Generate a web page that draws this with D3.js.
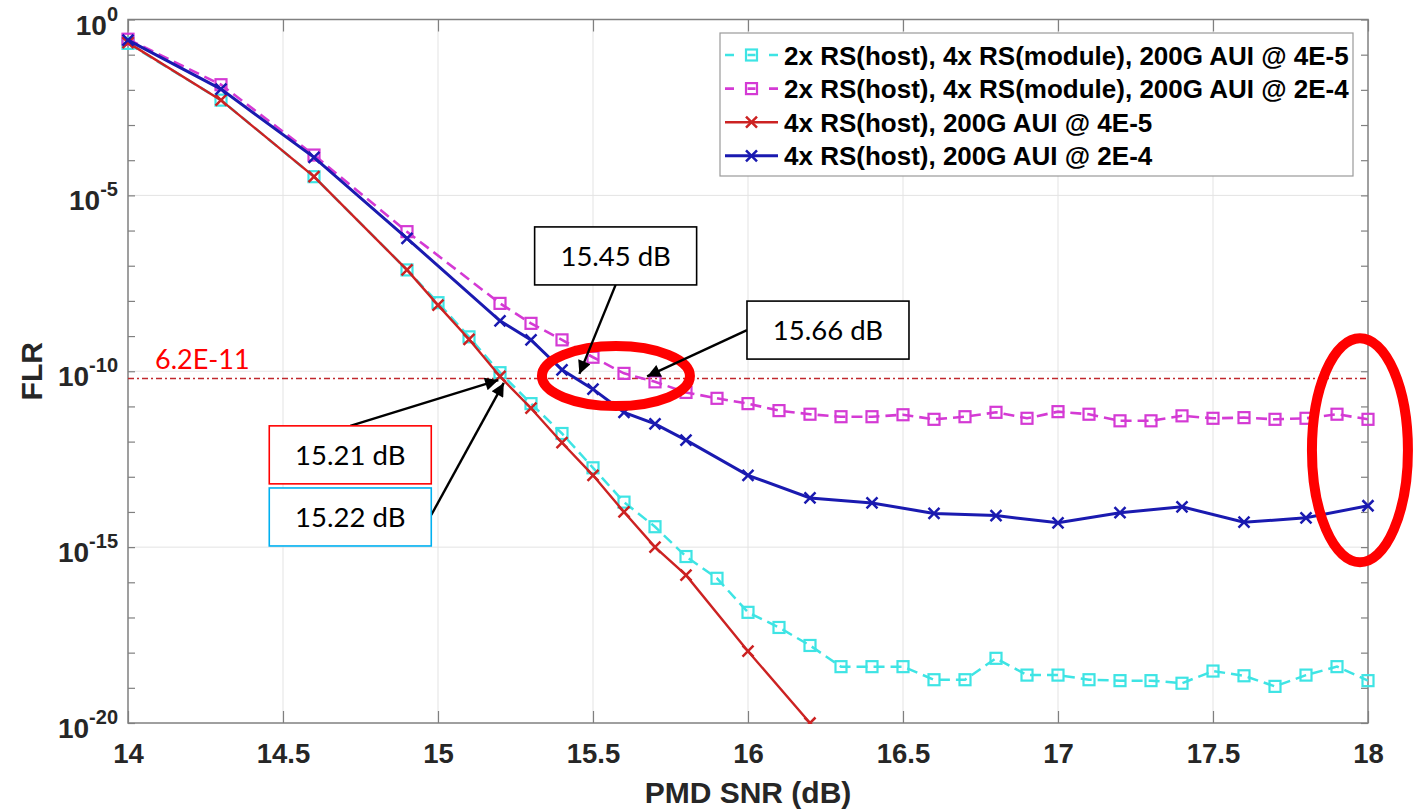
<!DOCTYPE html>
<html>
<head>
<meta charset="utf-8">
<script src="https://cdn.jsdelivr.net/npm/d3@7"></script>
<style>
  html, body { margin: 0; padding: 0; background: #ffffff; }
  svg { display: block; }
</style>
</head>
<body>
<svg id="chart" width="1419" height="810"></svg>
<script>
// ---------------- data ----------------
const seriesNames = [
  "2x RS(host), 4x RS(module), 200G AUI @ 4E-5",
  "2x RS(host), 4x RS(module), 200G AUI @ 2E-4",
  "4x RS(host), 200G AUI @ 4E-5",
  "4x RS(host), 200G AUI @ 2E-4"
];

// cyan: 2x RS(host), 4x RS(module) @ 4E-5
const snrCyan = [14, 14.3, 14.6, 14.9, 15.0, 15.1, 15.2, 15.3, 15.4, 15.5, 15.6, 15.7, 15.8, 15.9,
  16.0, 16.1, 16.2, 16.3, 16.4, 16.5, 16.6, 16.7, 16.8, 16.9, 17.0, 17.1, 17.2, 17.3, 17.4, 17.5,
  17.6, 17.7, 17.8, 17.9, 18.0];
const flrCyan = [2.1e-1, 5.1e-3, 3.4e-5, 7.6e-8, 8.9e-9, 9.5e-10, 9.1e-11, 1.2e-11, 1.7e-12, 1.8e-13,
  1.9e-14, 3.8e-15, 5.4e-16, 1.3e-16, 1.4e-17, 5.2e-18, 1.6e-18, 4.0e-19, 4.0e-19, 4.0e-19,
  1.7e-19, 1.7e-19, 6.9e-19, 2.3e-19, 2.3e-19, 1.7e-19, 1.6e-19, 1.6e-19, 1.35e-19, 3.0e-19,
  2.2e-19, 1.1e-19, 2.3e-19, 4.0e-19, 1.6e-19];

// magenta: 2x RS(host), 4x RS(module) @ 2E-4
const snrMagenta = [14, 14.3, 14.6, 14.9, 15.2, 15.3, 15.4, 15.5, 15.6, 15.7, 15.8, 15.9,
  16.0, 16.1, 16.2, 16.3, 16.4, 16.5, 16.6, 16.7, 16.8, 16.9, 17.0, 17.1, 17.2, 17.3, 17.4, 17.5,
  17.6, 17.7, 17.8, 17.9, 18.0];
const flrMagenta = [2.75e-1, 1.4e-2, 1.4e-4, 9.3e-7, 8.5e-9, 2.3e-9, 7.8e-10, 2.5e-10, 8.7e-11,
  5.0e-11, 2.5e-11, 1.7e-11, 1.2e-11, 7.6e-12, 6.0e-12, 5.1e-12, 5.1e-12, 5.8e-12, 4.3e-12,
  5.1e-12, 6.8e-12, 4.6e-12, 7.1e-12, 6.0e-12, 3.9e-12, 3.9e-12, 5.4e-12, 4.6e-12, 4.8e-12,
  4.3e-12, 4.6e-12, 6.0e-12, 4.3e-12];

// red: 4x RS(host) @ 4E-5
const snrRed = [14, 14.3, 14.6, 14.9, 15.0, 15.1, 15.2, 15.3, 15.4, 15.5, 15.6, 15.7, 15.8, 16.0, 16.2];
const flrRed = [2.2e-1, 5.1e-3, 3.4e-5, 7.6e-8, 7.6e-9, 8.1e-10, 7.1e-11, 8.9e-12, 9.3e-13, 1.1e-13,
  1.0e-14, 1.0e-15, 1.6e-16, 1.1e-18, 1.0e-20];

// blue: 4x RS(host) @ 2E-4
const snrBlue = [14, 14.3, 14.6, 14.9, 15.2, 15.3, 15.4, 15.5, 15.6, 15.7, 15.8, 16.0, 16.2, 16.4,
  16.6, 16.8, 17.0, 17.2, 17.4, 17.6, 17.8, 18.0];
const flrBlue = [2.6e-1, 1.05e-2, 1.2e-4, 6.0e-7, 2.7e-9, 7.8e-10, 1.1e-10, 3.1e-11, 6.8e-12, 3.2e-12,
  1.1e-12, 1.1e-13, 2.5e-14, 1.8e-14, 9.1e-15, 7.9e-15, 4.9e-15, 9.5e-15, 1.4e-14, 5.1e-15,
  6.8e-15, 1.5e-14];

// axes
const xTicks = [14, 14.5, 15, 15.5, 16, 16.5, 17, 17.5, 18];
const xTickLabels = ["14", "14.5", "15", "15.5", "16", "16.5", "17", "17.5", "18"];
const yMajorExps = [0, -5, -10, -15, -20];
const yMajorLabels = ["0", "-5", "-10", "-15", "-20"];
const yMinorExps = d3.range(0, -21, -1);
const xLabel = "PMD SNR (dB)";
const yLabel = "FLR";

// threshold & annotations
const thresholdFLR = 6.2e-11;
const thresholdLabel = "6.2E-11";
const annLabels = ["15.45 dB", "15.66 dB", "15.21 dB", "15.22 dB"];
const annSNR = [15.45, 15.66, 15.21, 15.22];
const annBoxSNR = [15.573, 16.258, 14.717, 14.717];
const annBoxFLR = [1.9e-7, 1.48e-9, 4.2e-13, 7.2e-15];
const annBorder = ["#000000", "#000000", "#ff0000", "#00b0f0"];
const annAnchor = ["bottom", "left", "top", "right"];

// highlight ellipses (centre in data units)
const ellSNR = [15.574, 17.974];
const ellFLR = [7.3e-11, 5.7e-13];

// ---------------- drawing ----------------
const svg = d3.select("#chart");
const L = 128, R = 1368, T = 19.5, B = 723;
const x = d3.scaleLinear().domain([14, 18]).range([L, R]);
const y = d3.scaleLog().domain([1e-20, 1]).range([B, T]);

const axisColor = "#808080";
const textColor = "#262626";
const tickFont = "'Liberation Sans', Arial, sans-serif";
const annFont = "Lato, 'Open Sans', sans-serif";

// grid
const grid = svg.append("g");
grid.selectAll("line.gx").data(xTicks.slice(1, -1)).join("line")
  .attr("x1", d => x(d)).attr("x2", d => x(d)).attr("y1", T).attr("y2", B)
  .attr("stroke", "#e3e3e3").attr("stroke-width", 1);
grid.selectAll("line.gy").data(yMajorExps.slice(1, -1)).join("line")
  .attr("x1", L).attr("x2", R).attr("y1", d => y(Math.pow(10, d))).attr("y2", d => y(Math.pow(10, d)))
  .attr("stroke", "#e3e3e3").attr("stroke-width", 1);

// axes via d3
const xAxisB = d3.axisBottom(x).tickValues(xTicks).tickSize(-12).tickFormat((d, i) => xTickLabels[i]).tickPadding(0);
const gxb = svg.append("g").attr("transform", `translate(0,${B})`).call(xAxisB);
gxb.select(".domain").remove();
gxb.selectAll(".tick line").attr("stroke", axisColor).attr("stroke-width", 1.2);
gxb.selectAll(".tick text").attr("fill", textColor).attr("font-family", tickFont)
  .attr("font-weight", "bold").attr("font-size", 27.5).attr("y", 40).attr("dy", null);

const xAxisT = d3.axisTop(x).tickValues(xTicks).tickSize(-12).tickFormat("");
const gxt = svg.append("g").attr("transform", `translate(0,${T})`).call(xAxisT);
gxt.select(".domain").remove();
gxt.selectAll(".tick line").attr("stroke", axisColor).attr("stroke-width", 1.2);

const yMinorVals = yMinorExps.map(e => Math.pow(10, e));
const yAxisL = d3.axisLeft(y).tickValues(yMinorVals).tickSize(-7).tickFormat("");
const gyl = svg.append("g").attr("transform", `translate(${L},0)`).call(yAxisL);
gyl.select(".domain").remove();
gyl.selectAll(".tick line").attr("stroke", axisColor).attr("stroke-width", 1.2);
const yAxisR = d3.axisRight(y).tickValues(yMinorVals).tickSize(-7).tickFormat("");
const gyr = svg.append("g").attr("transform", `translate(${R},0)`).call(yAxisR);
gyr.select(".domain").remove();
gyr.selectAll(".tick line").attr("stroke", axisColor).attr("stroke-width", 1.2);

// y tick labels with superscripts
const ylab = svg.append("g");
yMajorExps.forEach((e, i) => {
  const yy = y(Math.pow(10, e));
  const t = ylab.append("text").attr("x", 118).attr("y", yy + 15)
    .attr("text-anchor", "end").attr("fill", textColor)
    .attr("font-family", tickFont).attr("font-weight", "bold").attr("font-size", 28);
  t.append("tspan").text("10");
  t.append("tspan").attr("dy", -14).attr("font-size", 20).text(yMajorLabels[i]);
});

// box
svg.append("rect").attr("x", L).attr("y", T).attr("width", R - L).attr("height", B - T)
  .attr("fill", "none").attr("stroke", axisColor).attr("stroke-width", 1.5);

// axis titles
svg.append("text").attr("x", (L + R) / 2).attr("y", 803).attr("text-anchor", "middle")
  .attr("fill", textColor).attr("font-family", tickFont).attr("font-weight", "bold")
  .attr("font-size", 30).text(xLabel);
svg.append("text").attr("transform", `translate(42,${(T + B) / 2}) rotate(-90)`)
  .attr("text-anchor", "middle").attr("fill", textColor).attr("font-family", tickFont)
  .attr("font-weight", "bold").attr("font-size", 30).text(yLabel);

// threshold line
svg.append("line").attr("x1", L).attr("x2", R)
  .attr("y1", y(thresholdFLR)).attr("y2", y(thresholdFLR))
  .attr("stroke", "#c0282d").attr("stroke-width", 1.6).attr("stroke-dasharray", "6,3,2,3");
svg.append("text").attr("x", 155).attr("y", y(thresholdFLR) - 10)
  .attr("fill", "#ff0000").attr("font-family", annFont).attr("font-size", 27).text(thresholdLabel);

// series
const series = [
  { name: seriesNames[0], snr: snrCyan, flr: flrCyan, color: "#3ee4e4", dash: "11,6", marker: "square", w: 2.5 },
  { name: seriesNames[1], snr: snrMagenta, flr: flrMagenta, color: "#d43ad4", dash: "11,6", marker: "square", w: 2.6 },
  { name: seriesNames[2], snr: snrRed, flr: flrRed, color: "#cc2222", dash: null, marker: "x", w: 2.4 },
  { name: seriesNames[3], snr: snrBlue, flr: flrBlue, color: "#1a1ab0", dash: null, marker: "x", w: 3 }
];

svg.append("clipPath").attr("id", "plotclip").append("rect")
  .attr("x", L - 8).attr("y", T - 8).attr("width", R - L + 16).attr("height", B - T + 9);

const line = d3.line().x(d => x(d[0])).y(d => y(d[1]));
const plot = svg.append("g").attr("clip-path", "url(#plotclip)");

function drawMarker(g, type, color, cx, cy) {
  if (type === "square") {
    g.append("rect").attr("x", cx - 5.5).attr("y", cy - 5.5).attr("width", 11).attr("height", 11)
      .attr("fill", "none").attr("stroke", color).attr("stroke-width", 2.2);
  } else {
    g.append("path").attr("d", `M${cx - 5.5},${cy - 5.5}L${cx + 5.5},${cy + 5.5}M${cx - 5.5},${cy + 5.5}L${cx + 5.5},${cy - 5.5}`)
      .attr("fill", "none").attr("stroke", color).attr("stroke-width", 2.5);
  }
}

series.forEach(s => {
  const pts = s.snr.map((v, i) => [v, s.flr[i]]);
  const p = plot.append("path").attr("d", line(pts)).attr("fill", "none")
    .attr("stroke", s.color).attr("stroke-width", s.w);
  if (s.dash) p.attr("stroke-dasharray", s.dash);
  const mg = plot.append("g");
  pts.forEach(d => drawMarker(mg, s.marker, s.color, x(d[0]), y(d[1])));
});

// legend
const lg = svg.append("g");
lg.append("rect").attr("x", 720).attr("y", 33).attr("width", 633).attr("height", 143)
  .attr("fill", "#ffffff").attr("stroke", "#9a9a9a").attr("stroke-width", 1.2);
series.forEach((s, i) => {
  const cy = 55 + i * 33.6;
  const ln = lg.append("line").attr("x1", 725).attr("x2", 778).attr("y1", cy).attr("y2", cy)
    .attr("stroke", s.color).attr("stroke-width", s.w);
  if (s.dash) ln.attr("stroke-dasharray", "9,13.5,8,13.5,9");
  drawMarker(lg, s.marker, s.color, 751.5, cy);
  lg.append("text").attr("x", 784).attr("y", cy + 9.5).attr("fill", "#000000")
    .attr("font-family", tickFont).attr("font-weight", "bold").attr("font-size", 26).text(s.name);
});

// highlight ellipses
const ellRx = [74, 48], ellRy = [30, 112];
ellSNR.forEach((v, i) => {
  svg.append("ellipse").attr("cx", x(v)).attr("cy", y(ellFLR[i]))
    .attr("rx", ellRx[i]).attr("ry", ellRy[i])
    .attr("fill", "none").attr("stroke", "#ff0000").attr("stroke-width", 10);
});

// annotations (arrows + boxes)
const defs = svg.append("defs");
defs.append("marker").attr("id", "arrowhead").attr("viewBox", "0 0 10 10")
  .attr("refX", 10).attr("refY", 5).attr("markerWidth", 7.5).attr("markerHeight", 5.5)
  .attr("markerUnits", "strokeWidth").attr("orient", "auto")
  .append("path").attr("d", "M0,0L10,5L0,10z").attr("fill", "#000");

const boxW = 162, boxH = 58;
annLabels.forEach((lab, i) => {
  const bx = x(annBoxSNR[i]), by = y(annBoxFLR[i]);
  let sx = bx, sy = by;
  if (annAnchor[i] === "bottom") { sx = bx; sy = by + boxH / 2; }
  if (annAnchor[i] === "top") { sx = bx; sy = by - boxH / 2; }
  if (annAnchor[i] === "left") { sx = bx - boxW / 2; sy = by; }
  if (annAnchor[i] === "right") { sx = bx + boxW / 2; sy = by - 2; }
  const tx0 = x(annSNR[i]), ty0 = y(thresholdFLR);
  const dx = tx0 - sx, dy = ty0 - sy, len = Math.hypot(dx, dy);
  const tx = sx + dx * (len - 5) / len, ty = sy + dy * (len - 5) / len;
  svg.append("line").attr("x1", sx).attr("y1", sy).attr("x2", tx).attr("y2", ty)
    .attr("stroke", "#000").attr("stroke-width", 2.4).attr("marker-end", "url(#arrowhead)");
  svg.append("rect").attr("x", bx - boxW / 2).attr("y", by - boxH / 2).attr("width", boxW).attr("height", boxH)
    .attr("fill", "#ffffff").attr("stroke", annBorder[i]).attr("stroke-width", 1.6);
  svg.append("text").attr("x", bx).attr("y", by + 10).attr("text-anchor", "middle")
    .attr("fill", "#000").attr("font-family", annFont).attr("font-size", 27.5).text(lab);
});
</script>
</body>
</html>
